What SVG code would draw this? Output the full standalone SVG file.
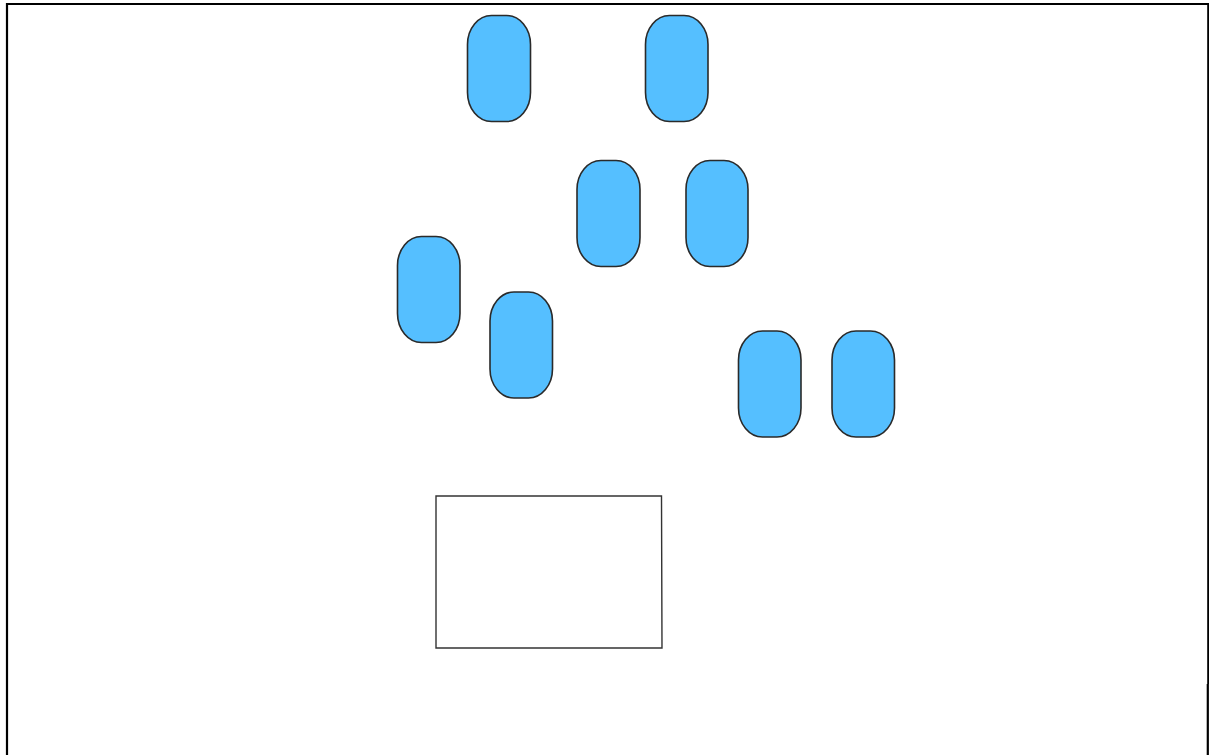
<svg xmlns="http://www.w3.org/2000/svg" width="1209" height="755" viewBox="0 0 1209 755">
<style>
.frame{fill:none;stroke:#000;stroke-width:2.2}
.pill{fill:#55bfff;stroke:#2a2a2a;stroke-width:1.6}
.box{fill:#fff;stroke:#333;stroke-width:1.4}
</style>
<rect width="1209" height="755" fill="#fff"/>
<g id="frame">
<path class="frame" d="M7,755 V4 H1208.3 V684"/>
<path class="frame" d="M1207.8,684 V755"/>
</g>
<g id="node1"><rect class="pill" x="467.5" y="15.5" width="63" height="106" rx="24" ry="29"/></g>
<g id="node2"><rect class="pill" x="645.5" y="15.5" width="62.5" height="106" rx="24" ry="29"/></g>
<g id="node3"><rect class="pill" x="577" y="160.5" width="63" height="106" rx="24" ry="29"/></g>
<g id="node4"><rect class="pill" x="686" y="160.5" width="62" height="106" rx="24" ry="29"/></g>
<g id="node5"><rect class="pill" x="397.5" y="236.5" width="62.5" height="106" rx="24" ry="29"/></g>
<g id="node6"><rect class="pill" x="490" y="292" width="62.5" height="106" rx="24" ry="29"/></g>
<g id="node7"><rect class="pill" x="738.5" y="331" width="62.5" height="106" rx="24" ry="29"/></g>
<g id="node8"><rect class="pill" x="832" y="331" width="62.5" height="106" rx="24" ry="29"/></g>
<g id="node9"><path class="box" d="M436,496 L661.5,496 L662,648 L436,648 Z"/></g>
<g id="connectors"></g>
</svg>
